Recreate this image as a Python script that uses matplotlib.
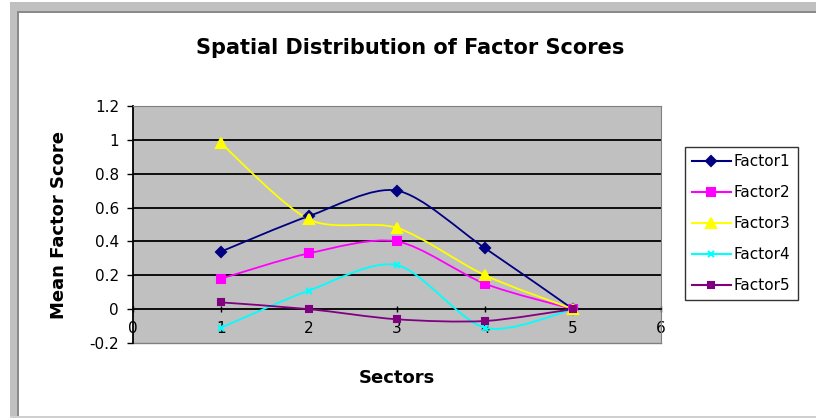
import numpy as np
import matplotlib
matplotlib.use("Agg")
import matplotlib.pyplot as plt
from matplotlib.path import Path
from matplotlib.patches import PathPatch, Rectangle
from matplotlib.lines import Line2D

# mean factor score per sector
sectors = [1, 2, 3, 4, 5]
factor1 = [0.34, 0.55, 0.70, 0.36, 0.0]
factor2 = [0.18, 0.33, 0.40, 0.15, 0.0]
factor3 = [0.98, 0.53, 0.48, 0.20, 0.0]
factor4 = [-0.11, 0.11, 0.26, -0.11, 0.0]
factor5 = [0.04, 0.00, -0.06, -0.07, 0.0]
names = ["Factor1", "Factor2", "Factor3", "Factor4", "Factor5"]

colors = ["#000080", "#FF00FF", "#FFFF00", "#00FFFF", "#800080"]
markers = ["D", "s", "^", "x", "s"]
msizes = [5, 6, 7, 5, 4]

plt.rcParams['font.family'] = ['DejaVu Sans']


def smooth_path(xs, ys, k=1 / 7):
    # bezier smoothing through the points, like a spreadsheet "smoothed line"
    pts = np.column_stack([xs, ys]).astype(float)
    n = len(pts)
    verts = [pts[0]]
    codes = [Path.MOVETO]
    for i in range(n - 1):
        p0 = pts[max(i - 1, 0)]
        p1 = pts[i]
        p2 = pts[i + 1]
        p3 = pts[min(i + 2, n - 1)]
        verts += [p1 + (p2 - p0) * k, p2 - (p3 - p1) * k, p2]
        codes += [Path.CURVE4] * 3
    return Path(verts, codes)


fig = plt.figure(figsize=(8.16, 4.2), dpi=100)
fig.patch.set_facecolor("white")

W, H = 816.0, 420.0


def px_rect(x0, y0, x1, y1, color):
    fig.add_artist(Rectangle((x0 / W, 1 - y1 / H), (x1 - x0) / W, (y1 - y0) / H,
                             transform=fig.transFigure, facecolor=color,
                             edgecolor="none", zorder=0))


# window frame around the chart
px_rect(10, 2, 816, 12, "#c0c0c0")
px_rect(10, 2, 17, 418, "#c0c0c0")
px_rect(17, 11, 816, 13, "#8a8a8a")
px_rect(17, 11, 19, 417, "#8a8a8a")
px_rect(10, 416, 816, 418, "#d0d0d0")

ax = fig.add_axes([133 / W, 1 - 343 / H, (661 - 133) / W, (343 - 106) / H])
ax.set_facecolor("#c0c0c0")
ax.set_xlim(0, 6)
ax.set_ylim(-0.2, 1.2)

for v in [0.2, 0.4, 0.6, 0.8, 1.0]:
    ax.axhline(v, color="black", lw=1.3, zorder=1)

series = [factor1, factor2, factor3, factor4, factor5]
handles = []
for ys, c, m, ms, name in zip(series, colors, markers, msizes, names):
    ax.add_patch(PathPatch(smooth_path(sectors, ys), facecolor="none",
                           edgecolor=c, lw=1.3, zorder=3))
    ax.plot(sectors, ys, linestyle="none", marker=m, color=c, ms=ms,
            mew=1.5, zorder=4)
    handles.append(Line2D([], [], color=c, lw=1.5, marker=m, ms=ms, mew=1.5))

for s in ["top", "right"]:
    ax.spines[s].set_color("#808080")
ax.spines["left"].set_color("black")
ax.spines["left"].set_linewidth(1.3)
ax.spines["bottom"].set_position(("data", 0))
ax.spines["bottom"].set_color("black")
ax.spines["bottom"].set_linewidth(1.3)
ax.axhline(-0.2, color="#808080", lw=1.0, clip_on=False)

ax.set_xticks(range(7))
ax.set_yticks([-0.2, 0, 0.2, 0.4, 0.6, 0.8, 1.0, 1.2])
ax.set_yticklabels(["-0.2", "0", "0.2", "0.4", "0.6", "0.8", "1", "1.2"])
ax.tick_params(axis="x", direction="inout", length=5, width=1, pad=6,
               labelsize=11)
ax.tick_params(axis="y", direction="out", length=4, width=1, pad=6,
               labelsize=11)

fig.text(410 / W, 1 - 48 / H, "Spatial Distribution of Factor Scores",
         ha="center", va="center", fontsize=15, fontweight="bold")
fig.text(397 / W, 1 - 378 / H, "Sectors", ha="center", va="center",
         fontsize=13, fontweight="bold")
fig.text(59 / W, 1 - 225 / H, "Mean Factor Score", ha="center", va="center",
         rotation=90, fontsize=13, fontweight="bold")

leg = fig.legend(handles, names, loc="upper left",
                 bbox_to_anchor=(685 / W, 1 - 147 / H), borderaxespad=0,
                 fontsize=11, frameon=True, fancybox=False, shadow=False,
                 handlelength=2.55, handletextpad=0.2, labelspacing=1.05,
                 borderpad=0.45)
leg.get_frame().set_edgecolor("black")
leg.get_frame().set_linewidth(1.0)

fig.savefig("out.png", dpi=100)
